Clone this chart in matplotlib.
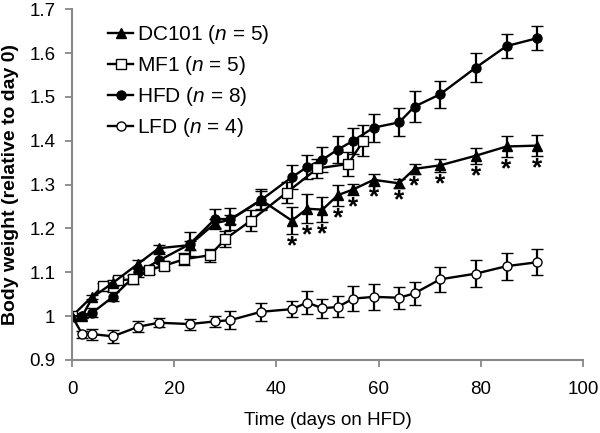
import numpy as np
import matplotlib.pyplot as plt

plt.rcParams['font.family'] = 'Liberation Sans'
plt.rcParams['mathtext.fontset'] = 'custom'
plt.rcParams['mathtext.it'] = 'Liberation Sans:italic'
plt.rcParams['mathtext.rm'] = 'Liberation Sans'

# DC101 (filled triangles)
dc_days = [0, 2, 4, 8, 13, 17, 23, 28, 31, 37, 43, 46, 49, 52, 55, 59, 64, 67, 72, 79, 85, 91]
dc_val = [1.0, 1.0, 1.043, 1.076, 1.12, 1.155, 1.162, 1.212, 1.22, 1.265, 1.218, 1.245, 1.243, 1.276,
          1.289, 1.311, 1.303, 1.336, 1.344, 1.366, 1.387, 1.389]
dc_err = [0, 0.005, 0.005, 0.007, 0.008, 0.008, 0.01, 0.01, 0.01, 0.02, 0.03, 0.033, 0.028, 0.024,
          0.013, 0.013, 0.01, 0.011, 0.015, 0.018, 0.025, 0.024]

# MF1 (open squares)
mf_days = [0, 6, 9, 12, 15, 18, 22, 27, 30, 35, 42, 48, 54, 57]
mf_val = [1.0, 1.068, 1.082, 1.084, 1.105, 1.115, 1.13, 1.139, 1.176, 1.218, 1.282, 1.337, 1.347, 1.40]
mf_err = [0, 0.008, 0.008, 0.01, 0.008, 0.01, 0.013, 0.015, 0.018, 0.023, 0.023, 0.021, 0.028, 0.035]

# HFD (filled circles)
hfd_days = [0, 2, 4, 8, 13, 17, 23, 28, 31, 37, 43, 46, 49, 52, 55, 59, 64, 67, 72, 79, 85, 91]
hfd_val = [1.0, 1.0, 1.008, 1.044, 1.1, 1.127, 1.164, 1.222, 1.221, 1.265, 1.317, 1.34, 1.357, 1.38,
           1.40, 1.43, 1.442, 1.478, 1.506, 1.567, 1.616, 1.634]
hfd_err = [0, 0.005, 0.01, 0.01, 0.01, 0.015, 0.027, 0.023, 0.025, 0.024, 0.027, 0.028, 0.028, 0.03,
           0.03, 0.032, 0.032, 0.036, 0.031, 0.034, 0.027, 0.027]

# LFD (open circles)
lfd_days = [0, 2, 4, 8, 13, 17, 23, 28, 31, 37, 43, 46, 49, 52, 55, 59, 64, 67, 72, 79, 85, 91]
lfd_val = [1.0, 0.959, 0.959, 0.954, 0.976, 0.985, 0.982, 0.988, 0.991, 1.01, 1.016, 1.031, 1.018,
           1.021, 1.04, 1.044, 1.042, 1.052, 1.084, 1.097, 1.114, 1.123]
lfd_err = [0, 0.008, 0.0125, 0.015, 0.0125, 0.01, 0.0125, 0.013, 0.02, 0.02, 0.018, 0.026, 0.022,
           0.024, 0.029, 0.03, 0.025, 0.027, 0.028, 0.03, 0.031, 0.03]

# significance stars under DC101
star_days = [43, 46, 49, 52, 55, 59, 64, 67, 72, 79, 85, 91]

fig = plt.figure(figsize=(6, 4.33), dpi=100)
ax = fig.add_axes([0.12, 0.1686, 0.852, 0.81])

common = dict(color='black', lw=1.7, elinewidth=1.6, capsize=4, capthick=1.6, markersize=6.5,
              markeredgewidth=1.0, markeredgecolor='black')
ax.errorbar(lfd_days, lfd_val, yerr=lfd_err, fmt='-o', markerfacecolor='white', **common)
ax.errorbar(hfd_days, hfd_val, yerr=hfd_err, fmt='-o', markerfacecolor='black', **common)
ax.errorbar(mf_days, mf_val, yerr=mf_err, fmt='-s', markerfacecolor='white', **common)
ax.errorbar(dc_days, dc_val, yerr=dc_err, fmt='-^', markerfacecolor='black', **common)

for d in star_days:
    i = dc_days.index(d)
    ax.text(d, dc_val[i] - dc_err[i] - 0.028, '*', ha='center', va='center', fontsize=19,
            fontweight='bold')

ax.set_xlim(0, 100)
ax.set_ylim(0.9, 1.7)
ax.set_xticks(np.arange(0, 101, 20))
ax.set_yticks(np.arange(0.9, 1.71, 0.1))
ax.set_yticklabels(['0.9', '1', '1.1', '1.2', '1.3', '1.4', '1.5', '1.6', '1.7'])
ax.tick_params(labelsize=13.5, direction='out', length=5, color='#888888', width=1.3)
ax.tick_params(axis='x', pad=10)
ax.tick_params(axis='y', pad=7)
for s in ['top', 'right']:
    ax.spines[s].set_visible(False)
for s in ['left', 'bottom']:
    ax.spines[s].set_color('#888888')
    ax.spines[s].set_linewidth(1.5)

ax.set_xlabel('Time (days on HFD)', fontsize=13.5, labelpad=10)
ax.set_ylabel('Body weight (relative to day 0)', fontsize=14, fontweight='bold')
ax.yaxis.set_label_coords(-0.104, 0.5)

labels = [r'DC101 ($\it{n}$ = 5)', r'MF1 ($\it{n}$ = 5)', r'HFD ($\it{n}$ = 8)', r'LFD ($\it{n}$ = 4)']
leg_handles = []
for mk, fc in [('^', 'black'), ('s', 'white'), ('o', 'black'), ('o', 'white')]:
    l, = ax.plot([], [], '-', marker=mk, color='black', markerfacecolor=fc, markeredgecolor='black',
                 lw=1.7, markersize=6.5)
    leg_handles.append(l)
ax.legend(leg_handles, labels, loc='upper left', bbox_to_anchor=(0.0705, 0.961), frameon=False,
          fontsize=15, handlelength=1.2, handletextpad=0.2, labelspacing=0.39,
          borderaxespad=0, borderpad=0)

fig.savefig('out.png', dpi=100)
